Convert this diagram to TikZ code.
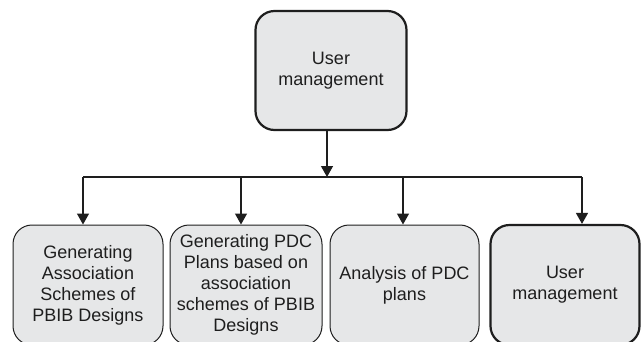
\documentclass[tikz,border=0pt]{standalone}
\usepackage{fontspec}
\setmainfont{Liberation Sans}
\usetikzlibrary{arrows.meta}

\definecolor{boxgrey}{HTML}{E6E7E8}
\definecolor{ink}{HTML}{1E1E1E}

\tikzset{
  module/.style={draw=ink, fill=boxgrey, line width=1pt, rounded corners=19pt,
    minimum width=151pt, minimum height=120pt, inner sep=2pt, align=center,
    text=ink, font=\fontsize{18}{21}\selectfont},
  mainmodule/.style={module, line width=2.2pt},
  link/.style={draw=ink, line width=1.3pt},
  arr/.style={link, -{Triangle[width=12pt,length=11pt]}}
}

\begin{document}
\begin{tikzpicture}[x=1pt,y=-1pt]

  \useasboundingbox (0,0) rectangle (641,341);
  \clip (0,0) rectangle (641,341);

  \node[mainmodule, minimum width=151pt, minimum height=119pt] (top) at (331,70.5) {User\\management};

  \node[module, minimum width=150pt] (gen) at (88,285) {Generating\\Association\\Schemes of\\PBIB Designs};
  \node[module, minimum width=152pt] (plan) at (246,285) {Generating PDC\\Plans based on\\association\\schemes of PBIB\\Designs};
  \node[module, minimum width=149pt] (ana) at (404.5,285) {Analysis of PDC\\plans};
  \node[mainmodule, minimum width=149pt] (user) at (565,285) {User\\management};

  \coordinate (bar) at (0,177);

  \draw[arr] ([xshift=-4pt]top.south) -- ([xshift=-4pt]top.south |- bar);
  \draw[link] ([xshift=-5pt]gen.north |- bar) -- ([xshift=17pt]user.north |- bar);

  \draw[arr] ([xshift=-5pt]gen.north |- bar) -- ([xshift=-5pt]gen.north);
  \draw[arr] ([xshift=-5pt]plan.north |- bar) -- ([xshift=-5pt]plan.north);
  \draw[arr] ([xshift=-1.5pt]ana.north |- bar) -- ([xshift=-1.5pt]ana.north);
  \draw[arr] ([xshift=17pt]user.north |- bar) -- ([xshift=17pt]user.north);

\end{tikzpicture}
\end{document}
